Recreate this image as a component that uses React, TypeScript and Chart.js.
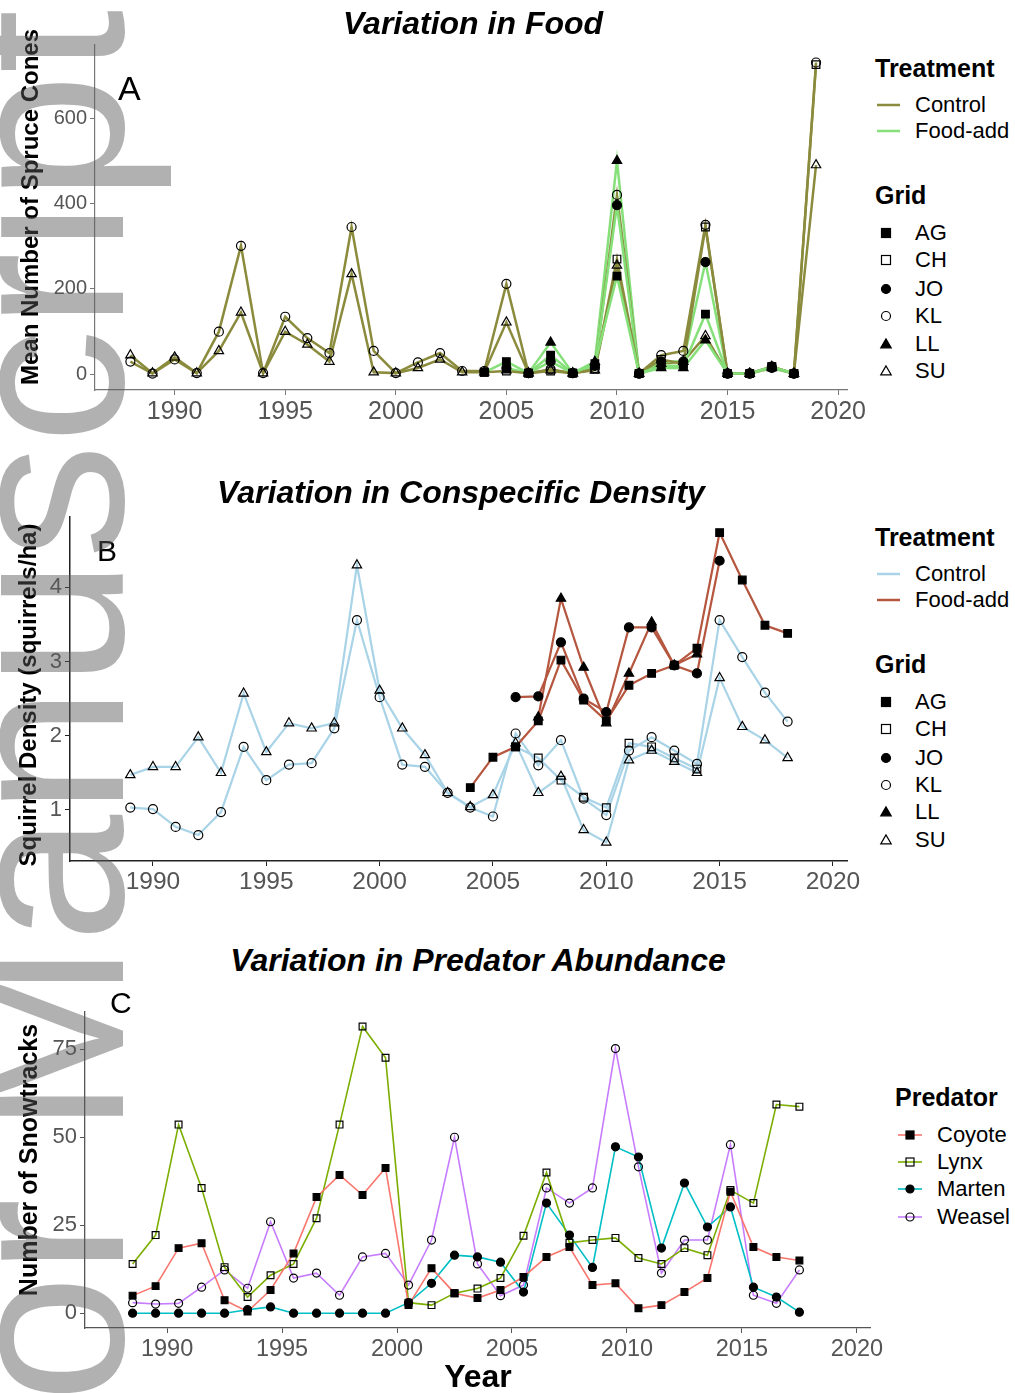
import React, { useEffect, useRef } from "react";
import { Chart, registerables } from "chart.js";
Chart.register(...registerables);

const FONT = "'Liberation Sans', Arial, Helvetica, sans-serif";

// ---------------- Panel A: Variation in Food ----------------
const YEARS_A = [1988, 1989, 1990, 1991, 1992, 1993, 1994, 1995, 1996, 1997, 1998, 1999, 2000, 2001, 2002, 2003, 2004, 2005, 2006, 2007, 2008, 2009, 2010, 2011, 2012, 2013, 2014, 2015, 2016, 2017, 2018, 2019];
const AG_A = [null, null, null, null, null, null, null, null, null, null, null, null, null, null, null, null, 5, 30, 3, 45, 3, 25, 230, 2, 20, 20, 141, 2, 2, 18, 2, null];
const CH_A = [null, null, null, null, null, null, null, null, null, null, null, null, null, null, null, null, 5, 8, 3, 8, 3, 12, 270, 2, 35, 25, 345, 2, 2, 18, 2, 725];
const JO_A = [null, null, null, null, null, null, null, null, null, null, null, null, null, null, null, null, null, 15, 3, 30, 3, 20, 396, 2, 30, 30, 263, 2, 2, 15, 2, null];
const KL_A = [30, 2, 35, 3, 100, 301, 3, 135, 85, 50, 345, 55, 3, 28, 50, 8, 8, 212, 3, 12, 3, 15, 420, 2, 45, 55, 350, 2, 2, 18, 2, 730];
const LL_A = [null, null, null, null, null, null, null, null, null, null, null, null, null, null, null, null, null, 10, 3, 75, 3, 30, 500, 2, 15, 15, 80, 2, 2, 18, 2, null];
const SU_A = [45, 3, 40, 3, 55, 145, 3, 100, 70, 30, 235, 5, 3, 15, 35, 5, 5, 122, 3, 10, 3, 10, 255, 2, 25, 30, 90, 2, 2, 15, 2, 490];
const Y_TICKS_A = [0, 200, 400, 600];

// ---------------- Panel B: Variation in Conspecific Density ----------------
const YEARS_B = [1989, 1990, 1991, 1992, 1993, 1994, 1995, 1996, 1997, 1998, 1999, 2000, 2001, 2002, 2003, 2004, 2005, 2006, 2007, 2008, 2009, 2010, 2011, 2012, 2013, 2014, 2015, 2016, 2017, 2018];
const AG_B = [null, null, null, null, null, null, null, null, null, null, null, null, null, null, null, 1.30, 1.71, 1.85, 2.20, 3.02, 2.48, 2.20, 2.68, 2.84, 2.95, 3.18, 4.74, 4.10, 3.49, 3.38];
const CH_B = [null, null, null, null, null, null, null, null, null, null, null, null, null, null, null, null, null, 1.85, 1.70, 1.40, 1.17, 1.03, 1.90, 1.85, 1.70, 1.55, null, null, null, null];
const JO_B = [null, null, null, null, null, null, null, null, null, null, null, null, null, null, null, null, null, 2.52, 2.53, 3.26, 2.50, 2.32, 3.46, 3.46, 2.95, 2.84, 4.36, null, null, null];
const KL_B = [1.03, 1.01, 0.77, 0.66, 0.97, 1.85, 1.40, 1.61, 1.63, 2.10, 3.56, 2.52, 1.61, 1.58, 1.23, 1.03, 0.91, 2.03, 1.60, 1.94, 1.15, 0.93, 1.80, 1.98, 1.80, 1.62, 3.56, 3.06, 2.58, 2.19];
const LL_B = [null, null, null, null, null, null, null, null, null, null, null, null, null, null, null, null, null, null, 2.25, 3.85, 2.92, 2.17, 2.84, 3.53, 2.95, 3.10, null, null, null, null];
const SU_B = [1.47, 1.58, 1.58, 1.98, 1.50, 2.57, 1.78, 2.17, 2.10, 2.17, 4.30, 2.61, 2.10, 1.74, 1.23, 1.04, 1.20, 1.90, 1.23, 1.45, 0.73, 0.56, 1.67, 1.80, 1.65, 1.50, 2.78, 2.12, 1.94, 1.70];
const Y_TICKS_B = [1, 2, 3, 4];

// ---------------- Panel C: Variation in Predator Abundance ----------------
// winters, plotted at mid-winter (year + 0.5)
const WINTERS_C = [1988, 1989, 1990, 1991, 1992, 1993, 1994, 1995, 1996, 1997, 1998, 1999, 2000, 2001, 2002, 2003, 2004, 2005, 2006, 2007, 2008, 2009, 2010, 2011, 2012, 2013, 2014, 2015, 2016, 2017];
const COYOTE = [5, 7.7, 18.5, 19.9, 3.7, 0.5, 6.6, 17, 33, 39.3, 33.6, 41.3, 2.3, 12.8, 5.7, 4.3, 6.6, 10.3, 16, 18.8, 8, 8.5, 1.4, 2.3, 6, 10, 34.5, 18.8, 16, 15];
const LYNX = [14, 22.2, 53.6, 35.6, 13.1, 4.6, 10.8, 14, 27, 53.6, 81.5, 72.6, 3, 2.3, 5.7, 7, 10, 22, 40, 20, 20.8, 21.4, 15.7, 14, 18.5, 16.5, 35, 31.3, 59.3, 58.7];
const MARTEN = [0, 0, 0, 0, 0, 1, 1.8, 0, 0, 0, 0, 0, 3, 8.5, 16.5, 16, 14.5, 6, 31.3, 22.2, 13, 47.3, 44.4, 18.5, 37, 24.5, 30.2, 7.4, 4.6, 0.3];
const WEASEL = [3, 2.6, 2.8, 7.4, 12.3, 7.1, 26, 10, 11.4, 5.1, 16, 17, 8, 20.8, 50, 14, 5, 8, 35.6, 31.3, 35.6, 75.2, 41.6, 11.4, 20.8, 20.8, 47.9, 5.1, 2.8, 12.3];
const Y_TICKS_C = [0, 25, 50, 75];

const X_TICKS = [1990, 1995, 2000, 2005, 2010, 2015, 2020];

const GRIDS = ["AG", "CH", "JO", "KL", "LL", "SU"];
const GRID_TREATMENT = ["Food-add", "Control", "Food-add", "Control", "Food-add", "Control"];
const GRID_SHAPE = ["rect", "rect", "circle", "circle", "triangle", "triangle"];
const GRID_FILLED = [true, false, true, false, true, false];
const TREATMENTS = ["Control", "Food-add"];

const PREDATORS = ["Coyote", "Lynx", "Marten", "Weasel"];
const PRED_COLORS = ["#F8766D", "#7CAE00", "#00BFC4", "#C77CFF"];
const PRED_SHAPE = ["rect", "rect", "circle", "circle"];
const PRED_FILLED = [true, false, true, false];

const TREAT_COLORS_A = { Control: "#8b8b3d", "Food-add": "#86e07a" };
const TREAT_COLORS_B = { Control: "#a9d3e6", "Food-add": "#b5563f" };

function pts(xs: number[], ys: (number | null)[], shift = 0) {
  return xs.map((x, i) => ({ x: x + shift, y: ys[i] })).filter((p) => p.y !== null && p.y !== undefined);
}

function radiusFor(shape: string, base: number) {
  if (shape === "rect") return base * 1.2;
  if (shape === "triangle") return base * 1.2;
  return base;
}

function buildConfig(o: any) {
  const datasets: any[] = [];
  o.series.forEach((s: any) => {
    datasets.push({
      data: s.data,
      borderColor: s.color,
      borderWidth: o.lineWidth,
      pointRadius: 0,
      fill: false,
      tension: 0,
      order: 2,
    });
  });
  o.series.forEach((s: any) => {
    datasets.push({
      data: s.data,
      showLine: false,
      borderColor: "rgba(0,0,0,0)",
      pointStyle: s.shape,
      pointRadius: radiusFor(s.shape, o.pointBase),
      pointBackgroundColor: s.filled ? "#000" : "rgba(0,0,0,0)",
      pointBorderColor: "#000",
      pointBorderWidth: 1.2,
      order: 1,
    });
  });
  return {
    type: "line",
    data: { datasets },
    options: {
      responsive: false,
      animation: false,
      devicePixelRatio: 1,
      events: [],
      layout: { padding: { top: o.padTop, right: o.padRight, left: 0, bottom: 0 } },
      plugins: { legend: { display: false }, tooltip: { enabled: false }, title: { display: false } },
      scales: {
        x: {
          type: "linear",
          min: o.xMin,
          max: o.xMax,
          afterBuildTicks: (s: any) => {
            s.ticks = X_TICKS.map((v) => ({ value: v }));
          },
          afterFit: (s: any) => {
            s.height = o.xAxisH;
          },
          grid: { drawOnChartArea: false, drawTicks: true, tickLength: 5, color: o.axisColor, lineWidth: 1 },
          border: { display: true, color: o.axisColor, width: o.axisWidth },
          ticks: { color: "#555", font: { family: FONT, size: o.tickSize }, padding: 2, maxRotation: 0, autoSkip: false, callback: (v: any) => String(v) },
        },
        y: {
          type: "linear",
          min: o.yMin,
          max: o.yMax,
          afterBuildTicks: (s: any) => {
            s.ticks = o.yTicks.map((v: number) => ({ value: v }));
          },
          afterFit: (s: any) => {
            s.width = o.yAxisW;
          },
          grid: { drawOnChartArea: false, drawTicks: true, tickLength: 5, color: o.axisColor, lineWidth: 1 },
          border: { display: true, color: o.axisColor, width: o.axisWidth },
          ticks: { color: "#555", font: { family: FONT, size: o.yTickSize }, padding: 3, autoSkip: false, callback: (v: any) => String(v) },
        },
      },
    },
  };
}

function ChartPanel({ left, top, width, height, config }: any) {
  const ref = useRef<HTMLCanvasElement>(null);
  useEffect(() => {
    const chart = new Chart(ref.current as HTMLCanvasElement, config);
    return () => chart.destroy();
  }, []);
  return <canvas ref={ref} width={width} height={height} style={{ position: "absolute", left, top, width, height }} />;
}

function Sym({ shape, filled, x, y, s = 9, color = "#000" }: any) {
  const fill = filled ? color : "none";
  if (shape === "rect") return <rect x={x - s / 2} y={y - s / 2} width={s} height={s} fill={fill} stroke={color} strokeWidth={1.2} />;
  if (shape === "circle") return <circle cx={x} cy={y} r={s / 2} fill={fill} stroke={color} strokeWidth={1.2} />;
  const h = s * 0.95;
  return (
    <polygon
      points={`${x},${y - h * 0.6} ${x - s * 0.58},${y + h * 0.45} ${x + s * 0.58},${y + h * 0.45}`}
      fill={fill}
      stroke={color}
      strokeWidth={1.2}
    />
  );
}

function Txt({ x, y, children, size = 22, bold = false, italic = false, anchor = "left", rotate = false, color = "#000" }: any) {
  const style: any = {
    position: "absolute",
    left: x,
    top: y,
    fontSize: size,
    fontWeight: bold ? "bold" : "normal",
    fontStyle: italic ? "italic" : "normal",
    color,
    whiteSpace: "nowrap",
    lineHeight: 1,
    fontFamily: FONT,
  };
  if (rotate) style.transform = "translate(-50%,-50%) rotate(-90deg)";
  else if (anchor === "center") style.transform = "translate(-50%,-50%)";
  else style.transform = "translate(0,-50%)";
  return <div style={style}>{children}</div>;
}

function GridLegend({ top, colors, rows }: any) {
  return (
    <>
      <Txt x={875} y={top} size={25} bold>Treatment</Txt>
      <svg style={{ position: "absolute", left: 870, top: top + 20, overflow: "visible" }} width={40} height={60}>
        <line x1={7} y1={17} x2={30} y2={17} stroke={colors.Control} strokeWidth={2.5} />
        <line x1={7} y1={43} x2={30} y2={43} stroke={colors["Food-add"]} strokeWidth={2.5} />
      </svg>
      <Txt x={915} y={top + 37}>{TREATMENTS[0]}</Txt>
      <Txt x={915} y={top + 63}>{TREATMENTS[1]}</Txt>
      <Txt x={875} y={top + 127} size={25} bold>Grid</Txt>
      <svg style={{ position: "absolute", left: 870, top: 0, overflow: "visible" }} width={30} height={10}>
        {GRIDS.map((g, i) => (
          <Sym key={g} shape={GRID_SHAPE[i]} filled={GRID_FILLED[i]} x={16} y={rows[i]} s={9} />
        ))}
      </svg>
      {GRIDS.map((g, i) => (
        <Txt key={g} x={915} y={rows[i]}>{g}</Txt>
      ))}
    </>
  );
}

export default function App() {
  const gridSeries = (years: number[], arrays: any[], colors: any) =>
    GRIDS.map((g, i) => ({
      data: pts(years, arrays[i]),
      color: colors[GRID_TREATMENT[i]],
      shape: GRID_SHAPE[i],
      filled: GRID_FILLED[i],
    }));

  const cfgA = buildConfig({
    series: gridSeries(YEARS_A, [AG_A, CH_A, JO_A, KL_A, LL_A, SU_A], TREAT_COLORS_A),
    lineWidth: 2.5,
    pointBase: 4.5,
    xMin: 1986.4,
    xMax: 2020.4,
    yMin: -36.5,
    yMax: 771,
    yTicks: Y_TICKS_A,
    yAxisW: 95,
    xAxisH: 40,
    padTop: 15,
    padRight: 23,
    axisColor: "#777",
    axisWidth: 1.2,
    tickSize: 25,
    yTickSize: 20,
  });
  const cfgB = buildConfig({
    series: gridSeries(YEARS_B, [AG_B, CH_B, JO_B, KL_B, LL_B, SU_B], TREAT_COLORS_B),
    lineWidth: 2.2,
    pointBase: 4.5,
    xMin: 1986.34,
    xMax: 2020.62,
    yMin: 0.31,
    yMax: 4.95,
    yTicks: Y_TICKS_B,
    yAxisW: 70,
    xAxisH: 39,
    padTop: 17,
    padRight: 23,
    axisColor: "#222",
    axisWidth: 1.5,
    tickSize: 24.5,
    yTickSize: 22,
  });
  const cfgC = buildConfig({
    series: PREDATORS.map((p, i) => ({
      data: pts(WINTERS_C, [COYOTE, LYNX, MARTEN, WEASEL][i], 0.5),
      color: PRED_COLORS[i],
      shape: PRED_SHAPE[i],
      filled: PRED_FILLED[i],
    })),
    lineWidth: 1.6,
    pointBase: 4,
    xMin: 1986.43,
    xMax: 2020.57,
    yMin: -4.2,
    yMax: 85.6,
    yTicks: Y_TICKS_C,
    yAxisW: 85,
    xAxisH: 42,
    padTop: 22,
    padRight: 20,
    axisColor: "#555",
    axisWidth: 1.3,
    tickSize: 23.5,
    yTickSize: 22,
  });

  const predRows = [1135, 1162, 1189, 1217];

  return (
    <div style={{ position: "absolute", left: 0, top: 0, width: 1015, height: 1393, overflow: "hidden", background: "#fff", fontFamily: FONT }}>
      <ChartPanel left={0} top={30} width={870} height={400} config={cfgA} />
      <ChartPanel left={0} top={500} width={870} height={400} config={cfgB} />
      <ChartPanel left={0} top={990} width={890} height={380} config={cfgC} />

      {/* Titles */}
      <Txt x={473} y={23} size={32} bold italic anchor="center">Variation in Food</Txt>
      <Txt x={461} y={492} size={32} bold italic anchor="center">Variation in Conspecific Density</Txt>
      <Txt x={478} y={960} size={32} bold italic anchor="center">Variation in Predator Abundance</Txt>

      {/* Axis titles */}
      <Txt x={30} y={207} size={24} bold rotate>Mean Number of Spruce Cones</Txt>
      <Txt x={28} y={695} size={24} bold rotate>Squirrel Density (squirrels/ha)</Txt>
      <Txt x={28} y={1160} size={25} bold rotate>Number of Snowtracks</Txt>
      <Txt x={478} y={1376} size={32} bold anchor="center">Year</Txt>

      {/* Panel letters */}
      <Txt x={118} y={88} size={34}>A</Txt>
      <Txt x={97} y={551} size={30}>B</Txt>
      <Txt x={110} y={1003} size={30}>C</Txt>

      {/* Legends */}
      <GridLegend top={68} colors={TREAT_COLORS_A} rows={[233, 260, 289, 316, 344, 371]} />
      <GridLegend top={537} colors={TREAT_COLORS_B} rows={[702, 729, 758, 785, 812, 840]} />

      <Txt x={895} y={1097} size={25} bold>Predator</Txt>
      <svg style={{ position: "absolute", left: 0, top: 0, overflow: "visible" }} width={10} height={10}>
        {PREDATORS.map((p, i) => (
          <g key={p}>
            <line x1={898} y1={predRows[i]} x2={922} y2={predRows[i]} stroke={PRED_COLORS[i]} strokeWidth={1.6} />
            <Sym shape={PRED_SHAPE[i]} filled={PRED_FILLED[i]} x={910} y={predRows[i]} s={8} />
          </g>
        ))}
      </svg>
      {PREDATORS.map((p, i) => (
        <Txt key={p} x={937} y={predRows[i]}>{p}</Txt>
      ))}

      {/* Watermark */}
      <div
        style={{
          position: "absolute",
          left: -71,
          top: 1876,
          fontSize: 230,
          lineHeight: "230px",
          fontFamily: FONT,
          color: "rgba(90,90,90,0.47)",
          transform: "rotate(-90deg)",
          transformOrigin: "0 0",
          whiteSpace: "nowrap",
          pointerEvents: "none",
        }}
      >
        Author Manuscript
      </div>
    </div>
  );
}
